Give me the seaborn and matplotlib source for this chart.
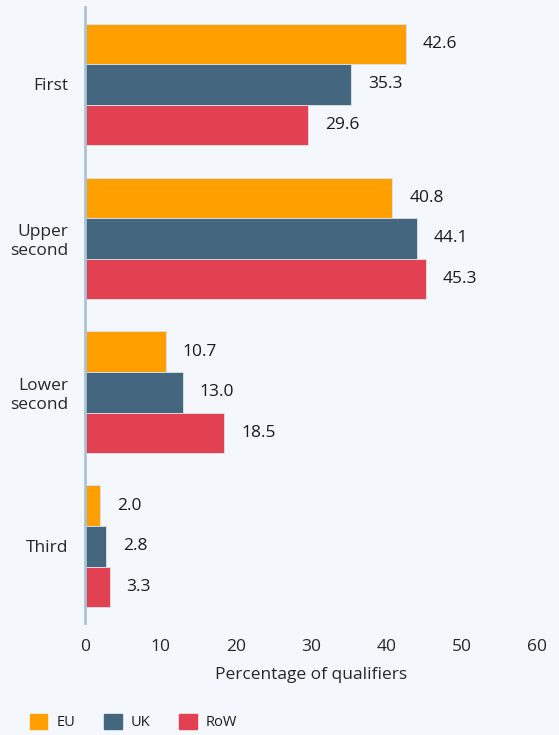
import numpy as np
import pandas as pd
import seaborn as sns
import matplotlib
matplotlib.use('Agg')
import matplotlib.pyplot as plt

# data
grades = ['First', 'Upper\nsecond', 'Lower\nsecond', 'Third']
regions = ['EU', 'UK', 'RoW']
eu = [42.6, 40.8, 10.7, 2.0]
uk = [35.3, 44.1, 13.0, 2.8]
row = [29.6, 45.3, 18.5, 3.3]
colors = ['#FF9F00', '#44667F', '#E24152']

bg = '#F4F8FC'

df = pd.DataFrame({
    'grade': grades * 3,
    'region': ['EU'] * 4 + ['UK'] * 4 + ['RoW'] * 4,
    'pct': eu + uk + row,
})

sns.set_theme(style='white')
plt.rcParams['font.family'] = ['Open Sans', 'DejaVu Sans']
plt.rcParams['text.color'] = '#1a1a1a'

fig = plt.figure(figsize=(5.59, 7.35), dpi=100, facecolor=bg)
ax = fig.add_axes([0.152, 0.152, 0.809, 0.838])
ax.set_facecolor(bg)

sns.barplot(data=df, y='grade', x='pct', hue='region', hue_order=regions,
            order=grades, palette=colors, orient='h', width=0.79,
            saturation=1, legend=False, ax=ax,
            edgecolor='#dbe4ec', linewidth=0.6)

for c in ax.containers:
    ax.bar_label(c, fmt='%.1f', padding=12, fontsize=12.5, color='#1a1a1a')

ax.set_xlim(0, 60)
ax.set_xticks(np.arange(0, 61, 10))
ax.set_ylabel('')
ax.set_xlabel('Percentage of qualifiers', fontsize=12.5, labelpad=9)
ax.tick_params(axis='x', length=0, pad=11, labelsize=12.5)
ax.tick_params(axis='y', length=0, pad=12, labelsize=12.5)
for t in ax.get_yticklabels():
    t.set_multialignment('right')

for s in ['top', 'right', 'bottom']:
    ax.spines[s].set_visible(False)
ax.spines['left'].set_color('#A9C4D8')
ax.spines['left'].set_linewidth(2)

handles = [plt.Rectangle((0, 0), 1, 1, color=c) for c in colors]
fig.legend(handles, regions, loc='lower left', bbox_to_anchor=(0.03, -0.011),
           ncol=3, frameon=False, fontsize=10.5, handlelength=1.2,
           handleheight=1.2, columnspacing=2.0, handletextpad=0.6)

fig.savefig('out.png', dpi=100, facecolor=bg)
